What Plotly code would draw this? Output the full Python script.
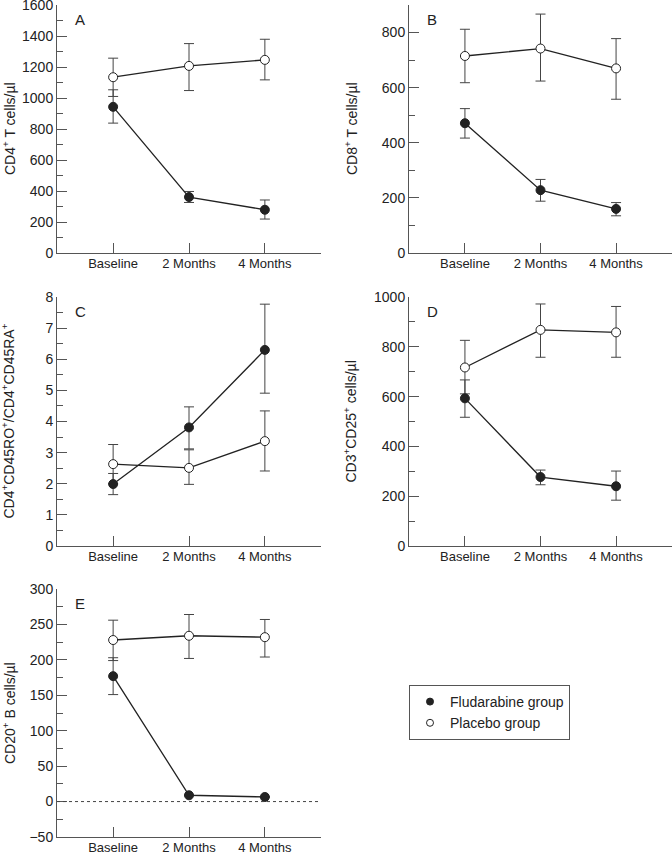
import plotly.graph_objects as go

categories = ["Baseline", "2 Months", "4 Months"]
xpos = [0, 1, 2]

# Panel A: CD4+ T cells/ul
a_flu = [943, 361, 279]
a_flu_up = [110, 36, 63]
a_flu_dn = [105, 35, 60]
a_pla = [1134, 1207, 1246]
a_pla_up = [123, 144, 133]
a_pla_dn = [124, 159, 129]

# Panel B: CD8+ T cells/ul
b_flu = [471, 228, 160]
b_flu_up = [53, 39, 23]
b_flu_dn = [54, 40, 25]
b_pla = [715, 742, 670]
b_pla_up = [97, 125, 108]
b_pla_dn = [97, 118, 112]

# Panel C: CD4+CD45RO+/CD4+CD45RA+
c_flu = [1.99, 3.81, 6.30]
c_flu_up = [0.34, 0.66, 1.47]
c_flu_dn = [0.34, 0.69, 1.39]
c_pla = [2.63, 2.51, 3.37]
c_pla_up = [0.63, 0.58, 0.97]
c_pla_dn = [0.63, 0.53, 0.96]

# Panel D: CD3+CD25+ cells/ul
d_flu = [593, 277, 240]
d_flu_up = [74, 28, 61]
d_flu_dn = [76, 31, 56]
d_pla = [717, 868, 858]
d_pla_up = [109, 104, 104]
d_pla_dn = [106, 110, 100]

# Panel E: CD20+ B cells/ul
e_flu = [177, 8.9, 6.5]
e_flu_up = [26, 0, 0]
e_flu_dn = [26, 0, 0]
e_pla = [228, 234, 232]
e_pla_up = [28, 30, 25]
e_pla_dn = [29, 32, 28]

panels = [
    ("A", a_flu, a_flu_up, a_flu_dn, a_pla, a_pla_up, a_pla_dn,
     "CD4<sup>+</sup> T cells/µl", [0, 1600], 200, 100),
    ("B", b_flu, b_flu_up, b_flu_dn, b_pla, b_pla_up, b_pla_dn,
     "CD8<sup>+</sup> T cells/µl", [0, 900], 200, 100),
    ("C", c_flu, c_flu_up, c_flu_dn, c_pla, c_pla_up, c_pla_dn,
     "CD4<sup>+</sup>CD45RO<sup>+</sup>/CD4<sup>+</sup>CD45RA<sup>+</sup>", [0, 8], 1, 0.5),
    ("D", d_flu, d_flu_up, d_flu_dn, d_pla, d_pla_up, d_pla_dn,
     "CD3<sup>+</sup>CD25<sup>+</sup> cells/µl", [0, 1000], 200, 100),
    ("E", e_flu, e_flu_up, e_flu_dn, e_pla, e_pla_up, e_pla_dn,
     "CD20<sup>+</sup> B cells/µl", [-50, 300], 50, 25),
]

W, H = 672, 853
xdom_left = [57 / W, 321 / W]
xdom_right = [409 / W, 1.0]
ydom_top = [1 - 253 / H, 1 - 5 / H]
ydom_mid = [1 - 546 / H, 1 - 297 / H]
ydom_bot = [1 - 837 / H, 1 - 589 / H]
domains = [
    (xdom_left, ydom_top),
    (xdom_right, ydom_top),
    (xdom_left, ydom_mid),
    (xdom_right, ydom_mid),
    (xdom_left, ydom_bot),
]
title_x = [9 / W, 351 / W, 9 / W, 351 / W, 9 / W]

FONT = "Liberation Sans, Arial, sans-serif"
INK = "#222222"
AX = "#555555"

fig = go.Figure()
layout = dict(
    width=W, height=H,
    margin=dict(l=0, r=0, t=0, b=0, autoexpand=False),
    paper_bgcolor="white", plot_bgcolor="white",
    font=dict(family=FONT, size=13, color=INK),
    showlegend=True,
)

annotations = []
shapes = []
for i, (letter, flu, fup, fdn, pla, pup, pdn, ytitle, yrange, dt, mdt) in enumerate(panels):
    n = i + 1
    xa = "x" if n == 1 else f"x{n}"
    ya = "y" if n == 1 else f"y{n}"
    xdom, ydom = domains[i]
    for vals, up, dn, fill in [(pla, pup, pdn, "white"), (flu, fup, fdn, INK)]:
        fig.add_trace(go.Scatter(
            x=xpos, y=vals, mode="lines+markers",
            line=dict(color=INK, width=1.3),
            marker=dict(size=9, color=fill, line=dict(color=INK, width=1)),
            error_y=dict(type="data", symmetric=False, array=up, arrayminus=dn,
                         color="#444444", thickness=1, width=5),
            xaxis=xa, yaxis=ya, showlegend=False, cliponaxis=False,
        ))
    axkey_x = "xaxis" if n == 1 else f"xaxis{n}"
    axkey_y = "yaxis" if n == 1 else f"yaxis{n}"
    layout[axkey_x] = dict(
        domain=xdom, anchor=ya, range=[-0.74, 2.74],
        tickvals=xpos, ticktext=categories, automargin=False,
        ticklabeloverflow="allow", ticklabelstandoff=-2,
        showline=True, linecolor=AX, linewidth=1,
        ticks="inside", ticklen=10, tickcolor=AX,
        showgrid=False, zeroline=False, tickfont=dict(size=13, color=INK),
        fixedrange=True,
    )
    layout[axkey_y] = dict(
        domain=ydom, anchor=xa, range=yrange, dtick=dt, tick0=0, automargin=False,
        ticklabeloverflow="allow",
        showline=True, linecolor=AX, linewidth=1,
        ticks="inside", ticklen=10, tickcolor=AX,
        minor=dict(ticks="inside", ticklen=6, dtick=mdt, tick0=0, tickcolor=AX),
        showgrid=False, zeroline=False, tickfont=dict(size=14, color=INK),
        fixedrange=True,
    )
    annotations.append(dict(
        text=ytitle, xref="paper", yref="paper", textangle=-90,
        x=title_x[i], y=(ydom[0] + ydom[1]) / 2, xanchor="center", yanchor="middle",
        showarrow=False, font=dict(size=14, color=INK),
    ))
    annotations.append(dict(
        text=letter, xref="paper", yref="paper",
        x=xdom[0] + 16 / W, y=ydom[1] - 4 / H, xanchor="left", yanchor="top",
        showarrow=False, font=dict(size=15, color=INK),
    ))
    if letter == "E":
        shapes.append(dict(
            type="line", xref=f"{xa} domain", yref=ya, x0=0, x1=1, y0=0, y1=0,
            line=dict(color="#444444", width=1, dash="dot"),
        ))

# legend-only traces
fig.add_trace(go.Scatter(x=[None], y=[None], mode="markers", name="Fludarabine group",
                         marker=dict(size=7, color=INK, line=dict(color=INK, width=1))))
fig.add_trace(go.Scatter(x=[None], y=[None], mode="markers", name="Placebo group",
                         marker=dict(size=7, color="white", line=dict(color=INK, width=1))))

layout["annotations"] = annotations
layout["shapes"] = shapes
layout["legend"] = dict(
    x=409 / W, y=1 - 685 / H, xanchor="left", yanchor="top",
    bordercolor=AX, borderwidth=1, bgcolor="white",
    font=dict(size=14, color=INK), itemwidth=30, tracegroupgap=0,
)
fig.update_layout(**layout)
fig.write_html("out.html", config={"displayModeBar": False},
               post_script="document.body.style.margin='0';")
